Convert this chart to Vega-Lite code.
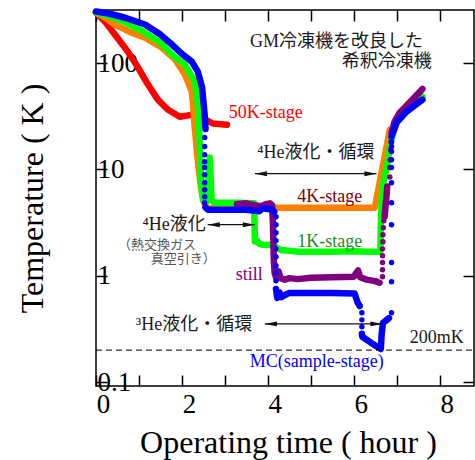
{
  "$schema": "https://vega.github.io/schema/vega-lite/v6.json",
  "width": 378,
  "height": 376,
  "autosize": {"type": "none"},
  "padding": {"left": 96, "top": 10, "right": 1, "bottom": 74},
  "background": "white",
  "config": {
    "view": {"stroke": "black", "strokeWidth": 1.5},
    "font": "Liberation Serif, Noto Sans CJK JP",
    "axis": {"domain": false, "grid": false, "tickColor": "black", "tickWidth": 1.5, "tickSize": -11, "labelColor": "black", "titleColor": "black", "labelFont": "Liberation Serif", "titleFont": "Liberation Serif", "titleFontWeight": "normal"}
  },
  "resolve": {"scale": {"x": "independent", "y": "independent"}, "axis": {"x": "independent", "y": "independent"}},
  "datasets": {
    "lines": [
      {"s":"red","g":"r1","t":0,"T":298},{"s":"red","g":"r1","t":0.21,"T":245},{"s":"red","g":"r1","t":0.44,"T":185},{"s":"red","g":"r1","t":0.74,"T":128},{"s":"red","g":"r1","t":0.98,"T":90.6},{"s":"red","g":"r1","t":1.21,"T":62.7},{"s":"red","g":"r1","t":1.44,"T":45.3},{"s":"red","g":"r1","t":1.67,"T":36.5},{"s":"red","g":"r1","t":1.95,"T":31.3},{"s":"red","g":"r1","t":2.26,"T":32.7},{"s":"red","g":"r1","t":2.33,"T":38},{"s":"red","g":"r1","t":2.42,"T":31.3},{"s":"red","g":"r1","t":2.72,"T":27},{"s":"red","g":"r1","t":3.05,"T":26.3},
      {"s":"orange","g":"o1","t":0,"T":298},{"s":"orange","g":"o1","t":0.21,"T":267},{"s":"orange","g":"o1","t":0.44,"T":230},{"s":"orange","g":"o1","t":0.8,"T":195},{"s":"orange","g":"o1","t":1.14,"T":173},{"s":"orange","g":"o1","t":1.53,"T":140},{"s":"orange","g":"o1","t":1.84,"T":108},{"s":"orange","g":"o1","t":2.07,"T":78},{"s":"orange","g":"o1","t":2.23,"T":54},{"s":"orange","g":"o1","t":2.26,"T":40.6},{"s":"orange","g":"o1","t":2.28,"T":30},{"s":"orange","g":"o1","t":2.33,"T":18},{"s":"orange","g":"o1","t":2.38,"T":11},{"s":"orange","g":"o1","t":2.44,"T":7},{"s":"orange","g":"o1","t":2.49,"T":5.2},{"s":"orange","g":"o1","t":2.56,"T":4.4},{"s":"orange","g":"o1","t":2.7,"T":4.3},{"s":"orange","g":"o1","t":3.5,"T":4.36},{"s":"orange","g":"o1","t":4.5,"T":4.36},{"s":"orange","g":"o1","t":5.5,"T":4.36},{"s":"orange","g":"o1","t":6.49,"T":4.36},{"s":"orange","g":"o1","t":6.84,"T":23.6},
      {"s":"green","g":"g1","t":0,"T":298},{"s":"green","g":"g1","t":0.3,"T":278},{"s":"green","g":"g1","t":0.7,"T":240},{"s":"green","g":"g1","t":1.14,"T":193},{"s":"green","g":"g1","t":1.5,"T":155},{"s":"green","g":"g1","t":1.77,"T":120},{"s":"green","g":"g1","t":2.07,"T":96.6},{"s":"green","g":"g1","t":2.3,"T":66.8},{"s":"green","g":"g1","t":2.37,"T":40.6},{"s":"green","g":"g1","t":2.4,"T":25},{"s":"green","g":"g1","t":2.43,"T":12},{"s":"green","g":"g1","t":2.46,"T":6.5},{"s":"green","g":"g1","t":2.5,"T":5.1},{"s":"green","g":"g1","t":2.58,"T":5.0},{"s":"green","g":"g1","t":2.62,"T":8},{"s":"green","g":"g1","t":2.65,"T":12.9},{"s":"green","g":"g1","t":2.67,"T":8},{"s":"green","g":"g1","t":2.69,"T":5.2},{"s":"green","g":"g1","t":2.75,"T":4.86},{"s":"green","g":"g1","t":3.3,"T":4.86},{"s":"green","g":"g1","t":3.68,"T":4.8},{"s":"green","g":"g1","t":3.7,"T":2.1},{"s":"green","g":"g1","t":3.75,"T":2.15},{"s":"green","g":"g1","t":3.8,"T":2.0},{"s":"green","g":"g1","t":3.9,"T":1.95},{"s":"green","g":"g1","t":4.1,"T":1.96},{"s":"green","g":"g1","t":4.3,"T":1.75},{"s":"green","g":"g1","t":4.74,"T":1.68},{"s":"green","g":"g1","t":5.5,"T":1.68},{"s":"green","g":"g1","t":6.0,"T":1.7},{"s":"green","g":"g1","t":6.3,"T":1.68},{"s":"green","g":"g1","t":6.62,"T":1.68},{"s":"green","g":"g1","t":6.63,"T":3},{"s":"green","g":"g1","t":6.65,"T":5},{"s":"green","g":"g1","t":6.67,"T":6.9},{"s":"green","g":"g1","t":6.79,"T":11.6},{"s":"green","g":"g1","t":6.84,"T":16.4},{"s":"green","g":"g1","t":6.9,"T":21},{"s":"green","g":"g1","t":7.0,"T":28.5},{"s":"green","g":"g1","t":7.23,"T":37},{"s":"green","g":"g1","t":7.6,"T":48},
      {"s":"purple","g":"p1","t":3.28,"T":4.7},{"s":"purple","g":"p1","t":3.5,"T":4.8},{"s":"purple","g":"p1","t":3.7,"T":4.6},{"s":"purple","g":"p1","t":3.85,"T":4.5},{"s":"purple","g":"p1","t":3.95,"T":4.7},{"s":"purple","g":"p1","t":4.05,"T":4.8},{"s":"purple","g":"p1","t":4.1,"T":4.6},{"s":"purple","g":"p1","t":4.12,"T":3},{"s":"purple","g":"p1","t":4.13,"T":2},{"s":"purple","g":"p1","t":4.14,"T":1.4},{"s":"purple","g":"p1","t":4.16,"T":1.05},{"s":"purple","g":"p1","t":4.2,"T":0.95},{"s":"purple","g":"p1","t":4.25,"T":1.1},{"s":"purple","g":"p1","t":4.3,"T":0.95},{"s":"purple","g":"p1","t":4.4,"T":0.92},{"s":"purple","g":"p1","t":4.5,"T":0.95},{"s":"purple","g":"p1","t":4.7,"T":0.93},{"s":"purple","g":"p1","t":5.0,"T":0.96},{"s":"purple","g":"p1","t":5.5,"T":0.97},{"s":"purple","g":"p1","t":6.0,"T":0.98},{"s":"purple","g":"p1","t":6.1,"T":1.12},{"s":"purple","g":"p1","t":6.15,"T":0.97},{"s":"purple","g":"p1","t":6.3,"T":0.92},{"s":"purple","g":"p1","t":6.5,"T":0.89},{"s":"purple","g":"p1","t":6.6,"T":0.86},
      {"s":"purple","g":"p2","t":6.72,"T":3.6},{"s":"purple","g":"p2","t":6.74,"T":4.5},{"s":"purple","g":"p2","t":6.76,"T":5.5},{"s":"purple","g":"p2","t":6.78,"T":6.9},
      {"s":"purple","g":"p3","t":6.88,"T":22},{"s":"purple","g":"p3","t":6.95,"T":28},{"s":"purple","g":"p3","t":7.07,"T":34.1},{"s":"purple","g":"p3","t":7.3,"T":42.4},{"s":"purple","g":"p3","t":7.6,"T":57},
      {"s":"blue","g":"b1","t":0,"T":305},{"s":"blue","g":"b1","t":0.3,"T":292},{"s":"blue","g":"b1","t":0.7,"T":265},{"s":"blue","g":"b1","t":1.14,"T":230},{"s":"blue","g":"b1","t":1.5,"T":185},{"s":"blue","g":"b1","t":1.77,"T":149},{"s":"blue","g":"b1","t":2.0,"T":122},{"s":"blue","g":"b1","t":2.23,"T":103},{"s":"blue","g":"b1","t":2.37,"T":83},{"s":"blue","g":"b1","t":2.47,"T":58.7},{"s":"blue","g":"b1","t":2.53,"T":32.7},{"s":"blue","g":"b1","t":2.55,"T":24},
      {"s":"blue","g":"b2","t":2.55,"T":4.4},{"s":"blue","g":"b2","t":2.6,"T":4.18},{"s":"blue","g":"b2","t":3.0,"T":4.18},{"s":"blue","g":"b2","t":3.5,"T":4.18},{"s":"blue","g":"b2","t":3.8,"T":4.05},{"s":"blue","g":"b2","t":3.88,"T":4.3},{"s":"blue","g":"b2","t":4.0,"T":4.25},{"s":"blue","g":"b2","t":4.1,"T":4.2},{"s":"blue","g":"b2","t":4.15,"T":4.0},
      {"s":"blue","g":"b3","t":4.19,"T":0.75},{"s":"blue","g":"b3","t":4.22,"T":0.62},{"s":"blue","g":"b3","t":4.27,"T":0.7},{"s":"blue","g":"b3","t":4.32,"T":0.63},{"s":"blue","g":"b3","t":4.4,"T":0.66},{"s":"blue","g":"b3","t":4.5,"T":0.69},{"s":"blue","g":"b3","t":5.0,"T":0.69},{"s":"blue","g":"b3","t":5.5,"T":0.69},{"s":"blue","g":"b3","t":6.02,"T":0.68},{"s":"blue","g":"b3","t":6.09,"T":0.56},{"s":"blue","g":"b3","t":6.14,"T":0.52},
      {"s":"blue","g":"b4","t":6.19,"T":0.285},{"s":"blue","g":"b4","t":6.2,"T":0.267},{"s":"blue","g":"b4","t":6.4,"T":0.235},{"s":"blue","g":"b4","t":6.63,"T":0.205},{"s":"blue","g":"b4","t":6.65,"T":0.28},{"s":"blue","g":"b4","t":6.68,"T":0.36},{"s":"blue","g":"b4","t":6.82,"T":0.4},
      {"s":"blue","g":"b5","t":6.88,"T":20.3},{"s":"blue","g":"b5","t":7.0,"T":27.5},{"s":"blue","g":"b5","t":7.23,"T":34.9},{"s":"blue","g":"b5","t":7.6,"T":45.3}
    ],
    "dots": [
      {"s":"purple","t":6.67,"T":0.98},{"s":"purple","t":6.67,"T":1.14},{"s":"purple","t":6.67,"T":1.33},{"s":"purple","t":6.67,"T":1.54},{"s":"purple","t":6.67,"T":1.79},{"s":"purple","t":6.68,"T":2.09},{"s":"purple","t":6.68,"T":2.43},{"s":"purple","t":6.69,"T":2.83},{"s":"purple","t":6.7,"T":3.29},{"s":"purple","t":6.84,"T":8.5},{"s":"purple","t":6.84,"T":10.4},{"s":"purple","t":6.85,"T":12.3},{"s":"purple","t":6.86,"T":15.3},{"s":"purple","t":6.87,"T":18},
      {"s":"blue","t":2.53,"T":19.9},{"s":"blue","t":2.53,"T":16.4},{"s":"blue","t":2.53,"T":13.7},{"s":"blue","t":2.53,"T":11.8},{"s":"blue","t":2.53,"T":10.4},{"s":"blue","t":2.53,"T":8.9},{"s":"blue","t":2.53,"T":7.5},{"s":"blue","t":2.53,"T":6.44},{"s":"blue","t":2.53,"T":5.53},{"s":"blue","t":2.53,"T":4.86},
      {"s":"blue","t":4.19,"T":3.59},{"s":"blue","t":4.19,"T":3.02},{"s":"blue","t":4.19,"T":2.54},{"s":"blue","t":4.19,"T":2.14},{"s":"blue","t":4.19,"T":1.79},{"s":"blue","t":4.19,"T":1.51},{"s":"blue","t":4.19,"T":1.24},{"s":"blue","t":4.19,"T":1.07},{"s":"blue","t":4.19,"T":0.9},
      {"s":"blue","t":6.19,"T":0.449},{"s":"blue","t":6.19,"T":0.385},{"s":"blue","t":6.19,"T":0.331},
      {"s":"blue","t":6.88,"T":0.449},{"s":"blue","t":6.88,"T":0.878},{"s":"blue","t":6.88,"T":1.33},{"s":"blue","t":6.88,"T":3.02},{"s":"blue","t":6.88,"T":4.86},{"s":"blue","t":6.88,"T":7.5},{"s":"blue","t":6.88,"T":10.4},{"s":"blue","t":6.88,"T":12.3},{"s":"blue","t":6.88,"T":14.7},{"s":"blue","t":6.88,"T":16.4},{"s":"blue","t":6.88,"T":18.2}
    ],
    "ref": [
      {"t0": 0, "t1": 8.8, "T": 0.2}
    ],
    "arrows": [
      {"x1":3.7,"x2":6.53,"T":9.11},
      {"x1":2.6,"x2":3.7,"T":3.02},
      {"x1":3.93,"x2":6.67,"T":0.353}
    ],
    "labels": [
      {"s":"note","text":"GM冷凍機を改良した","t":5.6,"T":159},
      {"s":"note","text":"希釈冷凍機","t":6.77,"T":103},
      {"s":"note","text":"⁴He液化・循環","t":5.12,"T":14.4},
      {"s":"note","text":"⁴He液化","t":1.82,"T":3.02},
      {"s":"note","text":"³He液化・循環","t":2.28,"T":0.346},
      {"s":"note","text":"200mK","t":7.93,"T":0.261},
      {"s":"50K","text":"50K-stage","t":3.95,"T":34.1},
      {"s":"4K","text":"4K-stage","t":5.44,"T":5.54},
      {"s":"1K","text":"1K-stage","t":5.44,"T":2.09},
      {"s":"still","text":"still","t":3.57,"T":1.02},
      {"s":"MC","text":"MC(sample-stage)","t":5.14,"T":0.155}
    ],
    "sublabels": [
      {"text":"（熱交換ガス","t":1.42,"T":1.96},
      {"text":"真空引き）","t":2.03,"T":1.45}
    ]
  },
  "encoding": {
    "x": {"field": "t", "type": "quantitative", "scale": {"domain": [0, 8.8], "nice": false, "zero": false}, "axis": null},
    "y": {"field": "T", "type": "quantitative", "scale": {"type": "log", "domain": [0.092, 315], "nice": false}, "axis": null}
  },
  "layer": [
    {
      "data": {"name": "lines"},
      "transform": [{"filter": "datum.s == 'red'"}],
      "mark": {"type": "line", "color": "#FF0000", "strokeWidth": 6.5, "strokeCap": "round", "strokeJoin": "round"},
      "encoding": {
        "x": {"field": "t", "type": "quantitative", "scale": {"domain": [0, 8.8], "nice": false, "zero": false},
          "axis": {"orient": "bottom", "values": [0,1,2,3,4,5,6,7,8], "labelExpr": "datum.value % 2 == 0 ? datum.label : ''", "labelFontSize": 27, "labelPadding": 29, "labelBaseline": "middle", "labelOffset": 7, "labelFlush": false, "labelOverlap": false,
            "title": "Operating time ( hour )", "titleFontSize": 32, "titleX": 192, "titleY": 66, "titleBaseline": "alphabetic", "titleAlign": "center"}},
        "y": {"field": "T", "type": "quantitative", "scale": {"type": "log", "domain": [0.092, 315], "nice": false},
          "axis": {"orient": "left", "values": [0.1, 1, 10, 100], "format": "~g", "labelFontSize": 27, "labelAlign": "left", "labelBaseline": "middle", "labelPadding": 10, "labelOverlap": false, "labelFlush": false,
            "title": "Temperature ( K )", "titleFontSize": 32, "titleX": -54, "titleY": 188, "titleAngle": -90, "titleAlign": "center", "titleBaseline": "alphabetic"}},
        "detail": {"field": "g"}
      }
    },
    {
      "data": {"name": "lines"},
      "transform": [{"filter": "datum.s == 'orange'"}],
      "mark": {"type": "line", "color": "#FF8000", "strokeWidth": 6.5, "strokeCap": "round", "strokeJoin": "round"},
      "encoding": {"detail": {"field": "g"}}
    },
    {
      "data": {"name": "lines"},
      "transform": [{"filter": "datum.s == 'green'"}],
      "mark": {"type": "line", "color": "#00FF00", "strokeWidth": 6.5, "strokeCap": "round", "strokeJoin": "round"},
      "encoding": {"detail": {"field": "g"}}
    },
    {
      "data": {"name": "lines"},
      "transform": [{"filter": "datum.s == 'purple'"}],
      "mark": {"type": "line", "color": "#800080", "strokeWidth": 6.5, "strokeCap": "round", "strokeJoin": "round"},
      "encoding": {"detail": {"field": "g"}}
    },
    {
      "data": {"name": "dots"},
      "transform": [{"filter": "datum.s == 'purple'"}],
      "mark": {"type": "circle", "color": "#800080", "size": 30, "opacity": 1}
    },
    {
      "data": {"name": "lines"},
      "transform": [{"filter": "datum.s == 'blue'"}],
      "mark": {"type": "line", "color": "#0000FF", "strokeWidth": 6.5, "strokeCap": "round", "strokeJoin": "round"},
      "encoding": {"detail": {"field": "g"}}
    },
    {
      "data": {"name": "dots"},
      "transform": [{"filter": "datum.s == 'blue'"}],
      "mark": {"type": "circle", "color": "#0000FF", "size": 30, "opacity": 1}
    },
    {
      "data": {"name": "ref"},
      "mark": {"type": "rule", "color": "black", "strokeWidth": 1, "strokeDash": [6, 4]},
      "encoding": {
        "x": {"field": "t0", "type": "quantitative", "scale": {"domain": [0, 8.8], "nice": false, "zero": false}, "axis": {"orient": "top", "values": [0,1,2,3,4,5,6,7,8], "labels": false, "title": null}},
        "x2": {"field": "t1"},
        "y": {"field": "T", "type": "quantitative", "scale": {"type": "log", "domain": [0.092, 315], "nice": false}, "axis": {"orient": "right", "values": [0.1, 1, 10, 100], "labels": false, "title": null}}
      }
    },
    {
      "data": {"name": "arrows"},
      "mark": {"type": "rule", "color": "#111111", "strokeWidth": 1.3},
      "encoding": {
        "x": {"field": "x1", "type": "quantitative", "scale": {"domain": [0, 8.8], "nice": false, "zero": false}, "axis": null},
        "x2": {"field": "x2"}
      }
    },
    {
      "data": {"name": "arrows"},
      "mark": {"type": "point", "shape": "M-1,0L1,-0.4L1,0.4Z", "filled": true, "color": "#111111", "size": 150, "opacity": 1, "xOffset": 6},
      "encoding": {"x": {"field": "x1", "type": "quantitative", "scale": {"domain": [0, 8.8], "nice": false, "zero": false}, "axis": null}}
    },
    {
      "data": {"name": "arrows"},
      "mark": {"type": "point", "shape": "M1,0L-1,-0.4L-1,0.4Z", "filled": true, "color": "#111111", "size": 150, "opacity": 1, "xOffset": -6},
      "encoding": {"x": {"field": "x2", "type": "quantitative", "scale": {"domain": [0, 8.8], "nice": false, "zero": false}, "axis": null}}
    },
    {
      "data": {"name": "labels"},
      "mark": {"type": "text", "font": "Liberation Serif, Noto Sans CJK JP", "fontSize": 18, "align": "center", "baseline": "middle"},
      "encoding": {
        "text": {"field": "text"},
        "color": {"field": "s", "type": "nominal", "legend": null,
          "scale": {"domain": ["note", "50K", "4K", "1K", "still", "MC"], "range": ["#1a1a1a", "#FF0000", "#800000", "#1E8C1E", "#800080", "#0000FF"]}}
      }
    },
    {
      "data": {"name": "sublabels"},
      "mark": {"type": "text", "font": "Liberation Serif, Noto Sans CJK JP", "fontSize": 13, "align": "center", "baseline": "middle", "color": "#555555"},
      "encoding": {"text": {"field": "text"}}
    }
  ]
}
